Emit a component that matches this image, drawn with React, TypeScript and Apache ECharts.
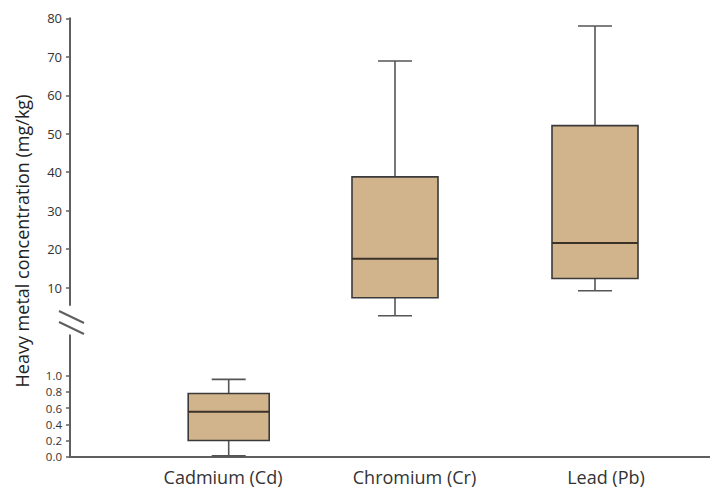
import React, { useEffect, useRef } from "react";
import * as echarts from "echarts";

// ---- data ----
const categories = ["Cadmium (Cd)", "Chromium (Cr)", "Lead (Pb)"];
const whiskerLow = [0.01, 2.7, 9.2];
const quartile1 = [0.2, 7.4, 12.4];
const medians = [0.555, 17.5, 21.6];
const quartile3 = [0.78, 38.8, 52.1];
const whiskerHigh = [0.955, 68.9, 78.0];

const upperTicks = [10, 20, 30, 40, 50, 60, 70, 80];
const lowerTicks = [0, 0.2, 0.4, 0.6, 0.8, 1.0];
const lowerMinorTicks = [1.2, 1.4];

const yTitle = "Heavy metal concentration (mg/kg)";

const FONT = "Open Sans";
const AXIS_COLOR = "#5f5f5f";
const TEXT_COLOR = "#333";

function row(i: number, xIndex: number) {
  return [xIndex, whiskerLow[i], quartile1[i], medians[i], quartile3[i], whiskerHigh[i]];
}

function makeRender(boxW: number, capW: number) {
  return (_params: any, api: any) => {
    const x = api.value(0);
    const lo = api.coord([x, api.value(1)]);
    const q1 = api.coord([x, api.value(2)]);
    const md = api.coord([x, api.value(3)]);
    const q3 = api.coord([x, api.value(4)]);
    const hi = api.coord([x, api.value(5)]);
    const cx = lo[0];
    const wStyle = { stroke: "#555", lineWidth: 1.6, fill: "none" };
    return {
      type: "group",
      children: [
        { type: "line", shape: { x1: cx, y1: hi[1], x2: cx, y2: q3[1] }, style: wStyle },
        { type: "line", shape: { x1: cx, y1: q1[1], x2: cx, y2: lo[1] }, style: wStyle },
        { type: "line", shape: { x1: cx - capW / 2, y1: hi[1], x2: cx + capW / 2, y2: hi[1] }, style: wStyle },
        { type: "line", shape: { x1: cx - capW / 2, y1: lo[1], x2: cx + capW / 2, y2: lo[1] }, style: wStyle },
        {
          type: "rect",
          shape: { x: cx - boxW / 2, y: q3[1], width: boxW, height: q1[1] - q3[1] },
          style: { fill: "#D2B48C", stroke: "#3a3a3a", lineWidth: 1.6 },
        },
        {
          type: "line",
          shape: { x1: cx - boxW / 2, y1: md[1], x2: cx + boxW / 2, y2: md[1] },
          style: { stroke: "#3a3128", lineWidth: 2 },
        },
      ],
    };
  };
}

export default function App() {
  const ref = useRef<HTMLDivElement>(null);

  useEffect(() => {
    if (!ref.current) return;
    const chart = echarts.init(ref.current, undefined, { renderer: "svg" });

    const upperData = [row(1, 1), row(2, 2)];
    const lowerData = [row(0, 0)];

    const tickLabel = { color: TEXT_COLOR, fontSize: 13, fontFamily: FONT, margin: 8 };

    const option: any = {
      animation: false,
      backgroundColor: "#fff",
      grid: [
        { left: 95, right: 15, top: 18.3, bottom: 183 },
        { left: 70, right: 0, top: 335.2, bottom: 31.3 },
        { left: 127.25, right: 8.25, top: 335.2, bottom: 31.3 },
        { left: 178.7, width: 100, top: 335.2, bottom: 31.3 },
      ],
      xAxis: [
        { gridIndex: 0, type: "category", data: categories, show: false },
        {
          gridIndex: 1,
          type: "value",
          min: 0,
          max: 1,
          axisLine: { show: true, lineStyle: { color: AXIS_COLOR, width: 2 } },
          axisTick: { show: false },
          axisLabel: { show: false },
          splitLine: { show: false },
        },
        {
          gridIndex: 2,
          type: "category",
          data: categories,
          axisLine: { show: false },
          axisTick: { show: false },
          axisLabel: { margin: 11, fontSize: 18, color: TEXT_COLOR, fontFamily: FONT },
          splitLine: { show: false },
        },
        { gridIndex: 3, type: "category", data: [categories[0]], show: false },
      ],
      yAxis: [
        {
          gridIndex: 0,
          type: "value",
          min: 5.5,
          max: 80,
          offset: 25,
          axisLine: { show: true, lineStyle: { color: AXIS_COLOR, width: 2 } },
          axisTick: { show: true, length: 4, customValues: upperTicks, lineStyle: { color: AXIS_COLOR, width: 1.5 } },
          axisLabel: { ...tickLabel, customValues: upperTicks },
          splitLine: { show: false },
        },
        {
          gridIndex: 1,
          type: "value",
          min: 0,
          max: 1.5,
          axisLine: { show: true, lineStyle: { color: AXIS_COLOR, width: 2 } },
          axisTick: { show: true, length: 4, customValues: lowerTicks, lineStyle: { color: AXIS_COLOR, width: 1.5 } },
          axisLabel: {
            ...tickLabel,
            fontSize: 11.5,
            lineHeight: 13,
            customValues: lowerTicks,
            formatter: (v: number) => v.toFixed(1),
          },
          splitLine: { show: false },
        },
        {
          gridIndex: 1,
          type: "value",
          min: 0,
          max: 1.5,
          axisLine: { show: false },
          axisTick: { show: true, length: 2, customValues: lowerMinorTicks, lineStyle: { color: AXIS_COLOR, width: 2 } },
          axisLabel: { show: false },
          splitLine: { show: false },
        },
        { gridIndex: 2, type: "value", min: 0, max: 1.5, show: false },
        { gridIndex: 3, type: "value", min: 0, max: 1.5, show: false },
      ],
      graphic: [
        {
          type: "line",
          shape: { x1: 59, y1: 311, x2: 84, y2: 323 },
          style: { stroke: AXIS_COLOR, lineWidth: 2 },
        },
        {
          type: "line",
          shape: { x1: 59, y1: 322, x2: 84, y2: 334 },
          style: { stroke: AXIS_COLOR, lineWidth: 2 },
        },
        {
          type: "text",
          x: 22,
          y: 241,
          rotation: Math.PI / 2,
          style: {
            text: yTitle,
            fontSize: 18,
            fontFamily: FONT,
            fill: "#222",
            align: "center",
            verticalAlign: "middle",
          },
        },
      ],
      series: [
        {
          type: "custom",
          xAxisIndex: 0,
          yAxisIndex: 0,
          data: upperData,
          encode: { x: 0, y: [1, 2, 3, 4, 5] },
          renderItem: makeRender(86, 34),
          clip: false,
          z: 5,
        },
        {
          type: "custom",
          xAxisIndex: 3,
          yAxisIndex: 4,
          data: lowerData,
          encode: { x: 0, y: [1, 2, 3, 4, 5] },
          renderItem: makeRender(81, 34),
          clip: false,
          z: 5,
        },
      ],
    };

    chart.setOption(option);
    return () => chart.dispose();
  }, []);

  return (
    <div
      ref={ref}
      style={{ position: "fixed", left: 0, top: 0, width: 710, height: 488, background: "#fff" }}
    />
  );
}
